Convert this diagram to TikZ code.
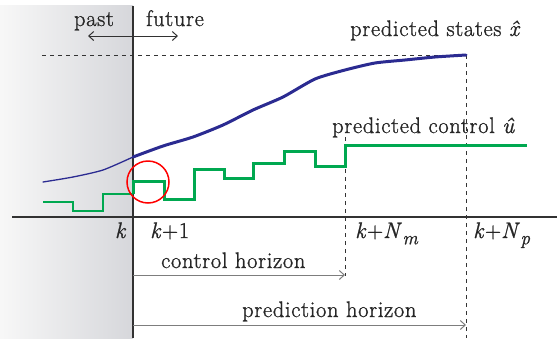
\documentclass[tikz,border=0pt]{standalone}
\usepackage{fontspec}
\newfontfamily\lblfont{Latin Modern Roman}[FakeBold=1.1, LetterSpace=3]
\usetikzlibrary{arrows.meta}
\definecolor{mpcblue}{RGB}{43,43,145}
\definecolor{mpcgreen}{RGB}{0,168,80}
\definecolor{axisgray}{RGB}{50,50,50}
\definecolor{hgray}{RGB}{125,125,125}
\definecolor{pastgray}{RGB}{214,215,219}
\newcommand{\subit}[1]{\raisebox{-0.28em}{\fontsize{19}{19}\selectfont\itshape #1}}
\begin{document}
\begin{tikzpicture}[x=1pt,y=-1pt,
  lbl/.style={font=\lblfont\fontsize{22.5}{27}\selectfont, inner sep=0pt, text=black!85},
  dashline/.style={black!80, line width=0.9pt, dash pattern=on 4pt off 4pt},
  barb/.style={-{Straight Barb[length=5pt,width=9pt]}},
  blueline/.style={mpcblue, line cap=round, line join=round},
  greenline/.style={mpcgreen, line join=miter}]
\useasboundingbox (0,0) rectangle (557,338);
% shaded past region
\shade[left color=black!3, right color=pastgray] (0,5) rectangle (133,338);
% dashed guide lines
\draw[dashline] (42,55) -- (466,55);
\draw[dashline] (466,55) -- (466,338);
\draw[dashline] (345,137) -- (345,276);
% axes
\draw[axisgray, line width=1.2pt] (133,6) -- (133,338);
\draw[axisgray, line width=1.3pt] (12,217) -- (557,217);
% states
\draw[blueline, line width=1.3pt] plot[smooth, tension=0.4] coordinates {(43,182) (73,177) (103,170) (133,157)};
\draw[blueline, line width=3pt] plot[smooth, tension=0.4] coordinates {(133,157) (163,146) (193,137) (223,125) (253,110) (283,97) (315,79) (345,70) (375,63) (405,60) (435,57) (466,55)};
% control
\draw[greenline, line width=1.3pt] (43,202) -- (73,202) -- (73,211) -- (103,211) -- (103,194) -- (133,194);
\draw[greenline, line width=3pt] (133,194) -- (133,181) -- (164,181) -- (164,199) -- (194,199) -- (194,169) -- (224,169) -- (224,178) -- (253,178) -- (253,163) -- (284,163) -- (284,151) -- (315,151) -- (315,166) -- (345,166) -- (345,145) -- (527,145);
% red circle
\draw[red, line width=1.5pt] (148,182) circle[radius=21];
% horizons
\coordinate (hs1) at (133,275);
\coordinate (he1) at (345,275);
\coordinate (hs2) at (133,325);
\coordinate (he2) at (466,325);
\draw[hgray, line width=1pt, barb] (hs1) -- (he1);
\draw[hgray, line width=1pt, barb] (hs2) -- (he2);
\coordinate (pf1) at (88,36);
\coordinate (pf2) at (178,36);
\draw[axisgray, line width=1pt, {Straight Barb[length=5pt,width=9pt]}-{Straight Barb[length=5pt,width=9pt]}] (pf1) -- (pf2);
% labels
\node[lbl, anchor=base] (past) at (94,26) {past};
\node[lbl, anchor=base] (future) at (175,26) {future};
\node[lbl, anchor=base west] (xs) at (350,36) {predicted states \textit{\^x}};
\node[lbl, anchor=base west] (uc) at (332,133) {predicted control \textit{\^u}};
\node[lbl, anchor=base east] (k0) at (127,238) {\textit{k}};
\node[lbl, anchor=base west] (k1) at (150,238) {\textit{k}+1};
\node[lbl, anchor=base west] (km) at (355,238) {\textit{k}+\textit{N}\subit{m}};
\node[lbl, anchor=base west] (kp) at (473,238) {\textit{k}+\textit{N}\subit{p}};
\node[lbl, anchor=base west] (ch) at (161,268) {control horizon};
\node[lbl, anchor=base west] (ph) at (242,317) {prediction horizon};
\end{tikzpicture}
\end{document}
